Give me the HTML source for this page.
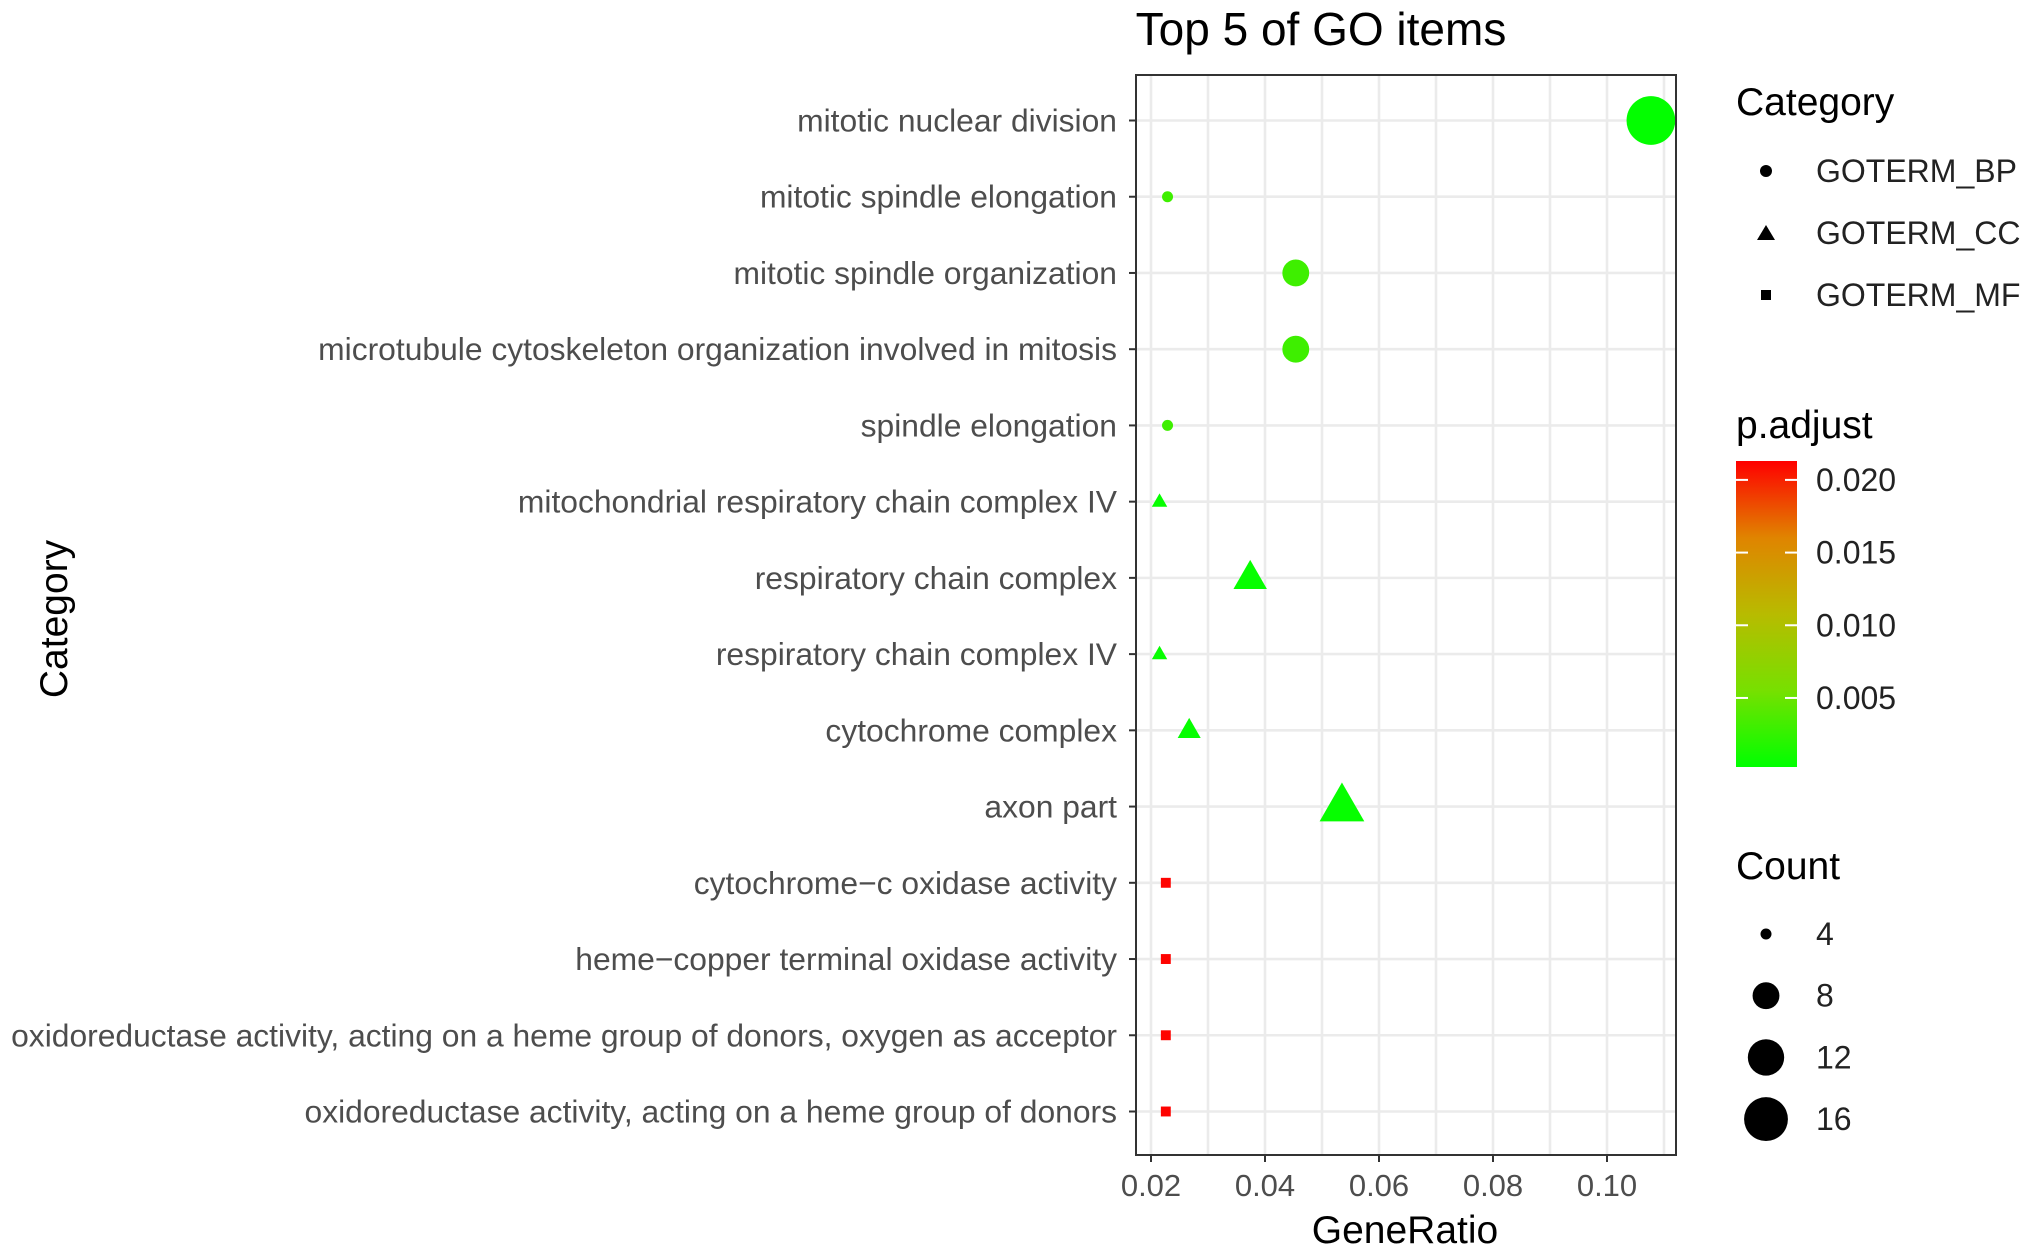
<!DOCTYPE html>
<html><head><meta charset="utf-8"><style>
html,body{margin:0;padding:0;background:#fff;}
svg{display:block;font-family:"Liberation Sans",sans-serif;}
</style></head><body>
<svg id="chart" width="2031" height="1257" viewBox="0 0 2031 1257">
<defs>
<linearGradient id="pgrad" x1="0" y1="1" x2="0" y2="0">
<stop offset="0" stop-color="#00ff00"/><stop offset="0.25" stop-color="#77e000"/><stop offset="0.5" stop-color="#b8bb00"/><stop offset="0.75" stop-color="#e08400"/><stop offset="1" stop-color="#ff0000"/>
</linearGradient>
</defs>
<text x="1321" y="45" font-size="46" text-anchor="middle" fill="#000">Top 5 of GO items</text>
<g id="plot"></g>
<text x="1405" y="1243" font-size="39" text-anchor="middle" fill="#000">GeneRatio</text>
<text transform="translate(67,619) rotate(-90)" font-size="39" text-anchor="middle" fill="#000">Category</text>
<g>
<text x="1736" y="115" font-size="39" fill="#000">Category</text>
<circle cx="1766" cy="171" r="6" fill="#000"/>
<text x="1816" y="182" font-size="32" fill="#222">GOTERM_BP</text>
<polygon points="1766,225 1775,240 1757,240" fill="#000"/>
<text x="1816" y="244" font-size="32" fill="#222">GOTERM_CC</text>
<rect x="1761" y="290" width="10" height="10" fill="#000"/>
<text x="1816" y="306" font-size="32" fill="#222">GOTERM_MF</text>
</g>
<g>
<text x="1736" y="438" font-size="39" fill="#000">p.adjust</text>
<rect x="1736" y="461" width="61" height="306" fill="url(#pgrad)"/>
<g id="cbticks"></g>
</g>
<g>
<text x="1736" y="879" font-size="39" fill="#000">Count</text>
<g id="countleg"></g>
</g>
</svg>
<script>
const categories = ["mitotic nuclear division","mitotic spindle elongation","mitotic spindle organization","microtubule cytoskeleton organization involved in mitosis","spindle elongation","mitochondrial respiratory chain complex IV","respiratory chain complex","respiratory chain complex IV","cytochrome complex","axon part","cytochrome\u2212c oxidase activity","heme\u2212copper terminal oxidase activity","oxidoreductase activity, acting on a heme group of donors, oxygen as acceptor","oxidoreductase activity, acting on a heme group of donors"];
const geneRatio = [0.1077,0.0229,0.0454,0.0454,0.0229,0.0215,0.0374,0.0215,0.0267,0.0535,0.0226,0.0226,0.0226,0.0226];
const counts = [19,4,8,8,4,4,7,4,5,10,4,4,4,4];
const padj = [0.0004,0.003,0.003,0.003,0.003,0.0005,0.0005,0.0005,0.0005,0.0005,0.0212,0.0212,0.0212,0.0212];
const groups = ["BP","BP","BP","BP","BP","CC","CC","CC","CC","CC","MF","MF","MF","MF"];
const xTicks = [0.02,0.04,0.06,0.08,0.10];
const xTickLabels = ["0.02","0.04","0.06","0.08","0.10"];
const cbTicks = [0.005,0.010,0.015,0.020];
const cbTickLabels = ["0.005","0.010","0.015","0.020"];
const countLegend = [4,8,12,16];

const NS="http://www.w3.org/2000/svg";
const PL=1136,PR=1676,PT=75,PB=1155;
const xs=v=>1151+(v-0.02)*5700;
const ys=i=>120.5+i*76.23;
const dia=n=>Math.sqrt(121+150*(n-4));
const cbY=v=>767-(v-0.00025)/(0.0213-0.00025)*306;
function col(v){
  const stops=[[0,[0,255,0]],[0.25,[119,224,0]],[0.5,[184,187,0]],[0.75,[224,132,0]],[1,[255,0,0]]];
  let t=Math.max(0,Math.min(1,(v-0.00025)/(0.0213-0.00025)));
  for(let k=1;k<stops.length;k++){if(t<=stops[k][0]){const a=stops[k-1],b=stops[k];const u=(t-a[0])/(b[0]-a[0]);
  const c=a[1].map((x,j)=>Math.round(x+(b[1][j]-x)*u));return `rgb(${c})`;}}
  return "rgb(255,0,0)";
}
function mk(tag,attrs,parent){const e=document.createElementNS(NS,tag);for(const k in attrs)e.setAttribute(k,attrs[k]);parent.appendChild(e);return e;}
const g=document.getElementById('plot');
const bg=mk('rect',{x:PL,y:PT,width:PR-PL,height:PB-PT,fill:'#fff'},g);


for(let k=2;k<=11;k++){
  const v=k/100;
  const l=mk('line',{x1:xs(v),x2:xs(v),y1:PT,y2:PB,stroke:'#ebebeb','stroke-width':2.6},g);
  
  
}
categories.forEach((c,i)=>{
  const l=mk('line',{x1:PL,x2:PR,y1:ys(i),y2:ys(i),stroke:'#ebebeb','stroke-width':2.6},g);
  
  
  const t=mk('line',{x1:PL-7,x2:PL,y1:ys(i),y2:ys(i),stroke:'#333','stroke-width':2},g);
  
  
  const tx=mk('text',{x:1117,y:ys(i)+11,'font-size':31.8,'text-anchor':'end',fill:'#4d4d4d'},g);
  tx.textContent=c;
  
  
});
xTicks.forEach((v,i)=>{
  const t=mk('line',{x1:xs(v),x2:xs(v),y1:PB,y2:PB+7,stroke:'#333','stroke-width':2},g);
  
  
  const tx=mk('text',{x:xs(v),y:PB+41,'font-size':31,'text-anchor':'middle',fill:'#4d4d4d'},g);
  tx.textContent=xTickLabels[i];
  
  
});
categories.forEach((c,i)=>{
  const cx=xs(geneRatio[i]),cy=ys(i),d=dia(counts[i]),f=col(padj[i]);
  let e;
  if(groups[i]==="BP"){e=mk('circle',{cx,cy,r:d/2,fill:f},g);}
  else if(groups[i]==="CC"){const w=d*1.4,h=w*0.87;e=mk('polygon',{points:`${cx},${cy-h*0.62} ${cx+w/2},${cy+h*0.38} ${cx-w/2},${cy+h*0.38}`,fill:f},g);}
  else{const s=d*0.9;e=mk('rect',{x:cx-s/2,y:cy-s/2,width:s,height:s,fill:f},g);}
  
  
});
const border=mk('rect',{x:PL,y:PT,width:PR-PL,height:PB-PT,fill:'none',stroke:'#333','stroke-width':2},g);


const cb=document.getElementById('cbticks');
cbTicks.forEach((v,i)=>{
  const y=cbY(v);
  const a=mk('line',{x1:1736,x2:1748,y1:y,y2:y,stroke:'#fff','stroke-width':2},cb);
  
  
  const b=mk('line',{x1:1785,x2:1797,y1:y,y2:y,stroke:'#fff','stroke-width':2},cb);
  
  
  const t=mk('text',{x:1816,y:y+11,'font-size':32,fill:'#222'},cb);
  t.textContent=cbTickLabels[i];
  
  
});
const cl=document.getElementById('countleg');
countLegend.forEach((n,i)=>{
  const y=934+i*61.7;
  const c=mk('circle',{cx:1766,cy:y,r:dia(n)/2,fill:'#000'},cl);
  
  
  const t=mk('text',{x:1816,y:y+11,'font-size':32,fill:'#222'},cl);
  t.textContent=String(n);
  
  
});
</script>
</body></html>
